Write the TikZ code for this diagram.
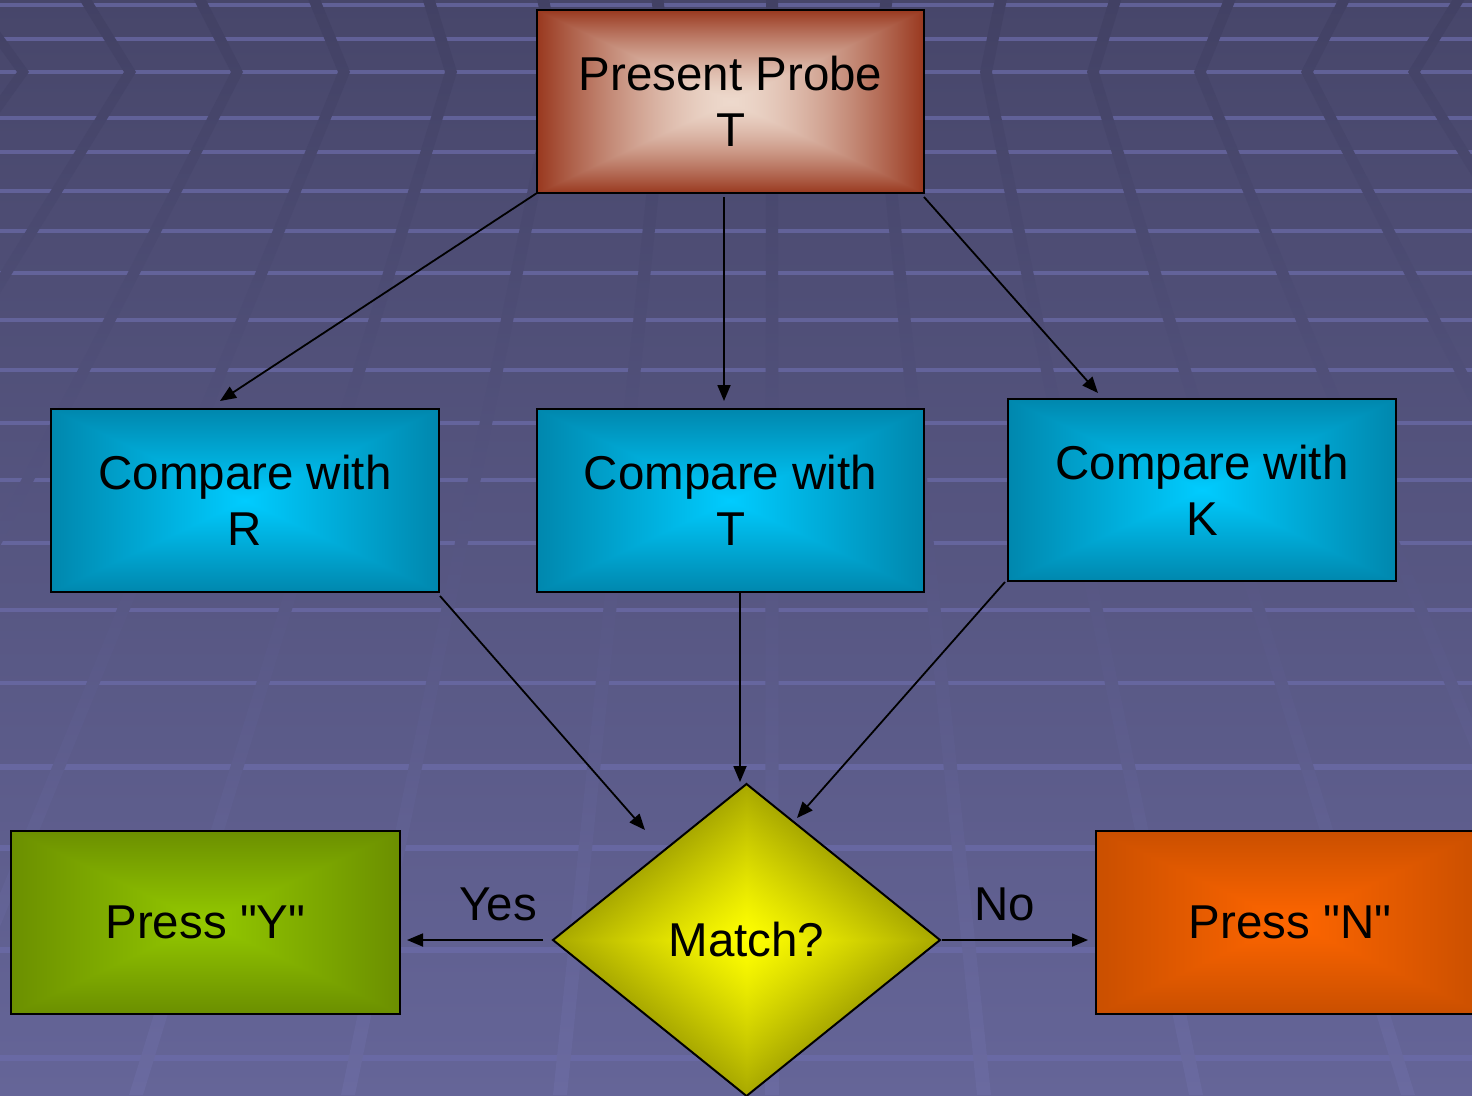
\documentclass[tikz,border=0pt]{standalone}
\usepackage{fontspec}
\setmainfont{Liberation Sans}
\usetikzlibrary{arrows.meta,calc,shapes.geometric}

% Path gradients: the colour runs from the centre colour to the edge colour.
% args: name, exponent, edge r g b, centre r g b
\newcommand\rectpathshading[8]{%
  \pgfdeclarefunctionalshading{#1}{\pgfpoint{0bp}{0bp}}{\pgfpoint{100bp}{100bp}}{}{%
    50 sub abs 25 div exch 50 sub abs 25 div
    2 copy sub abs add add 2 div
    #2 exp dup dup
    #3 #6 sub mul #6 add 3 1 roll
    #4 #7 sub mul #7 add exch
    #5 #8 sub mul #8 add}}
\newcommand\diamondpathshading[8]{%
  \pgfdeclarefunctionalshading{#1}{\pgfpoint{0bp}{0bp}}{\pgfpoint{100bp}{100bp}}{}{%
    50 sub abs 25 div exch 50 sub abs 25 div add
    #2 exp dup dup
    #3 #6 sub mul #6 add 3 1 roll
    #4 #7 sub mul #7 add exch
    #5 #8 sub mul #8 add}}

\rectpathshading{probeshade}{1.5}{0.60}{0.22}{0.12}{0.93}{0.85}{0.80}
\rectpathshading{cmpshade}{1.0}{0.0}{0.53}{0.68}{0.0}{0.80}{1.0}
\rectpathshading{yesshade}{1.0}{0.42}{0.56}{0.0}{0.58}{0.79}{0.0}
\rectpathshading{noshade}{1.0}{0.79}{0.31}{0.0}{1.0}{0.40}{0.0}
\diamondpathshading{matchshade}{1.2}{0.66}{0.66}{0.0}{1.0}{1.0}{0.0}

\definecolor{bgtop}{RGB}{71,70,106}
\definecolor{bgbot}{RGB}{101,101,152}
\definecolor{hline}{RGB}{108,108,170}
\definecolor{stripetop}{RGB}{66,65,100}
\definecolor{stripebot}{RGB}{106,106,160}

% straight double quote, from the same face loaded without TeX input mappings
\font\straightq="Liberation Sans" at 47.5pt
\newcommand\dq{{\straightq\symbol{34}}}

\begin{document}
\begin{tikzpicture}[x=1pt,y=-1pt,
  txt/.style={font=\fontsize{47.5}{56}\selectfont, text=black},
  box/.style={txt, draw=black, line width=2pt, rectangle, outer sep=0pt,
    inner sep=0pt, minimum width=388pt, minimum height=183pt, align=center},
  decision/.style={txt, draw=black, line width=2pt, diamond, outer sep=0pt,
    inner sep=0pt, minimum width=387pt, minimum height=312pt, shading=matchshade},
  conn/.style={line width=1.8pt, -{Triangle[length=16pt,width=13pt]}},
  lbl/.style={txt, inner sep=0pt}]

\useasboundingbox (0,0) rectangle (1472,1095);
\clip (0,0) rectangle (1472,1095);

% backdrop
\shade[top color=bgtop, bottom color=bgbot] (0,0) rectangle (1472,1095);

% floor grid: horizontal rails
\foreach \yy [evaluate=\yy as \lw using 3.5+\yy/500] in
  {5,39,72,118,152,191,231,273,320,370,423,480,543,610,683,767,848,950,1058}
  \draw[hline, opacity=0.7, line width=\lw pt] (0,\yy) -- (1472,\yy);

% floor grid: receding stripes, folded at the horizon line
\shade[top color=stripetop, bottom color=stripebot]
  \foreach \n [evaluate=\n as \xa using 772+\n*114.4,
               evaluate=\n as \xb using 772+\n*107,
               evaluate=\n as \xc using 772+\n*212] in {-8,...,7} {
    (\xa-6,0) -- (\xb-6,72) -- (\xc-7,1095) -- (\xc+7,1095) -- (\xb+6,72) -- (\xa+6,0) -- cycle };

% flow chart
\node[box, minimum width=387pt, shading=probeshade] (probe) at (730.5,101.5) {Present Probe\\T};
\node[box, shading=cmpshade] (cmpR) at (245,500.5) {Compare with\\R};
\node[box, minimum width=387pt, shading=cmpshade] (cmpT) at (730.5,500.5) {Compare with\\T};
\node[box, minimum height=182pt, shading=cmpshade] (cmpK) at (1202,490) {Compare with\\K};
\node[box, minimum width=389pt, shading=yesshade] (pressY) at (205.5,922) {Press \dq Y\dq};
\node[box, shading=noshade] (pressN) at (1290,922) {Press \dq N\dq};
\node[decision] (match) at (746.5,940) {Match?};

\node[lbl] (yes) at (498,904) {Yes};
\node[lbl] (no) at (1005,904) {No};

\draw[conn] (probe.south west) -- ($(cmpR.north)+(-25,-8)$);
\draw[conn] ($(probe.south)+(-6.5,4)$) -- ($(cmpT.north)+(-6.5,-8)$);
\draw[conn] ($(probe.south east)+(0,4)$) -- ($(cmpK.north)+(-104,-6)$);
\draw[conn] ($(cmpR.south east)+(1,4)$) -- ($(match.center)+(-101.5,-110)$);
\draw[conn] ($(cmpT.south)+(9.5,0)$) -- ($(match.north)+(-6.5,-2)$);
\draw[conn] ($(cmpK.south west)+(-3,1)$) -- ($(match.center)+(50.5,-122)$);
\draw[conn] ($(match.west)+(-10,0)$) -- ($(pressY.east)+(7,18)$);
\draw[conn] ($(match.east)+(2,0)$) -- ($(pressN.west)+(-8,18)$);
\end{tikzpicture}
\end{document}
